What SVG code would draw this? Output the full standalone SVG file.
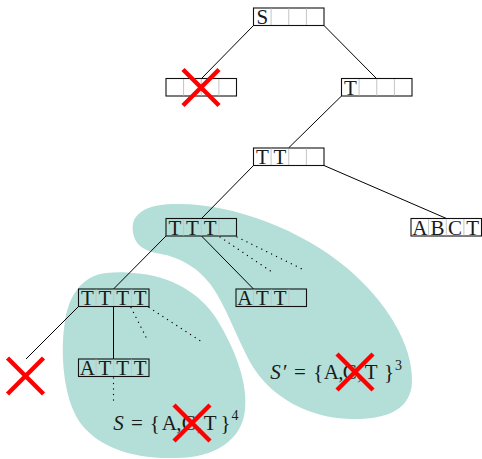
<svg xmlns="http://www.w3.org/2000/svg" width="482" height="459" viewBox="0 0 482 459">
  <style>
    .blob { fill: #b3dfd8; stroke: none; }
    .frame { fill: none; stroke: #111; stroke-width: 1.1; }
    .div { stroke: #c4c4c4; stroke-width: 1; }
    .ch { font-family: "Liberation Serif", "DejaVu Serif", serif; font-size: 21px; fill: #1a1a1a; text-anchor: middle; }
    .edge { stroke: #000; stroke-width: 1; fill: none; }
    .dots { stroke: #000; stroke-width: 1.3; fill: none; stroke-dasharray: 0.1 5.4; stroke-linecap: round; }
    .cross { stroke: #ff0000; stroke-width: 4.5; }
    .math { font-family: "Liberation Serif", "DejaVu Serif", serif; font-size: 21px; fill: #1a1a1a; text-anchor: middle; }
    .sup { font-size: 14px; }
  </style>
  <defs>
    <!-- a four-cell word box: frame plus three light dividers -->
    <g id="cells">
      <rect class="frame" x="0" y="0" width="70.5" height="17.5"/>
      <line class="div" x1="17.6" y1="0.5" x2="17.6" y2="17"/>
      <line class="div" x1="35.25" y1="0.5" x2="35.25" y2="17"/>
      <line class="div" x1="52.9" y1="0.5" x2="52.9" y2="17"/>
    </g>
    <g id="x">
      <line class="cross" x1="-18" y1="-18" x2="18" y2="18"/>
      <line class="cross" x1="-18" y1="18" x2="18" y2="-18"/>
    </g>
  </defs>

  <!-- shaded regions -->
  <g id="regions">
    <path id="region-s-prime" class="blob" d="M 133,232 C 130,214 146,204 176,204 C 232,203 302,230 347,268 C 387,302 413,345 412,382 C 411,410 386,420 350,419 C 310,418 270,398 250,362 C 236,336 226,306 211,285 C 196,265 176,256 156,253 C 141,250 134,242 133,232 Z"/>
    <path id="region-s" class="blob" d="M 132,273 C 172,275 200,294 216,318 C 236,350 248,384 245,410 C 242,440 215,458 175,458 C 130,459 96,446 79,421 C 63,396 60,352 65,321 C 69,295 82,276 106,273 C 116,272 125,272 132,273 Z"/>
  </g>

  <!-- tree edges -->
  <g id="connectors">
    <line class="edge" x1="253.5" y1="25.5" x2="201.5" y2="78.5"/>
    <line class="edge" x1="324" y1="25.5" x2="376.5" y2="78.5"/>
    <line class="edge" x1="341.5" y1="96" x2="288.5" y2="148"/>
    <line class="edge" x1="324" y1="165.5" x2="446.5" y2="218.5"/>
    <line class="edge" x1="253.5" y1="165.5" x2="201.5" y2="218.5"/>
    <line class="edge" x1="166" y1="236" x2="113.5" y2="289"/>
    <line class="edge" x1="201.5" y1="236" x2="253.5" y2="289"/>
    <line class="edge" x1="78.5" y1="306.5" x2="26" y2="359"/>
    <line class="edge" x1="113.5" y1="306.5" x2="113.5" y2="359"/>
    <line class="dots" x1="220" y1="237" x2="272" y2="272"/>
    <line class="dots" x1="237" y1="237" x2="302" y2="269"/>
    <line class="dots" x1="131" y1="307.5" x2="148" y2="341"/>
    <line class="dots" x1="149" y1="307.5" x2="202" y2="342"/>
    <line class="dots" x1="113.5" y1="378" x2="113.5" y2="405"/>
  </g>

  <!-- nodes -->
  <g id="node-s" transform="translate(253.5,8)">
    <use href="#cells"/>
    <text class="ch" font-family="Liberation Serif, serif" x="8.8" y="16.3">S</text>
  </g>
  <g id="node-empty" transform="translate(166,78.5)">
    <use href="#cells"/>
  </g>
  <g id="node-t" transform="translate(341.5,78.5)">
    <use href="#cells"/>
    <text class="ch" font-family="Liberation Serif, serif" x="8.8" y="16.3">T</text>
  </g>
  <g id="node-tt" transform="translate(253.5,148)">
    <use href="#cells"/>
    <text class="ch" font-family="Liberation Serif, serif" x="8.8" y="16.3">T</text>
    <text class="ch" font-family="Liberation Serif, serif" x="26.4" y="16.3">T</text>
  </g>
  <g id="node-abct" transform="translate(411,218.5)">
    <use href="#cells"/>
    <text class="ch" font-family="Liberation Serif, serif" x="8.8" y="16.3">A</text>
    <text class="ch" font-family="Liberation Serif, serif" x="26.4" y="16.3">B</text>
    <text class="ch" font-family="Liberation Serif, serif" x="44.1" y="16.3">C</text>
    <text class="ch" font-family="Liberation Serif, serif" x="61.7" y="16.3">T</text>
  </g>
  <g id="node-ttt" transform="translate(166,218.5)">
    <use href="#cells"/>
    <text class="ch" font-family="Liberation Serif, serif" x="8.8" y="16.3">T</text>
    <text class="ch" font-family="Liberation Serif, serif" x="26.4" y="16.3">T</text>
    <text class="ch" font-family="Liberation Serif, serif" x="44.1" y="16.3">T</text>
  </g>
  <g id="node-tttt" transform="translate(78.5,289)">
    <use href="#cells"/>
    <text class="ch" font-family="Liberation Serif, serif" x="8.8" y="16.3">T</text>
    <text class="ch" font-family="Liberation Serif, serif" x="26.4" y="16.3">T</text>
    <text class="ch" font-family="Liberation Serif, serif" x="44.1" y="16.3">T</text>
    <text class="ch" font-family="Liberation Serif, serif" x="61.7" y="16.3">T</text>
  </g>
  <g id="node-att" transform="translate(236,289)">
    <use href="#cells"/>
    <text class="ch" font-family="Liberation Serif, serif" x="8.8" y="16.3">A</text>
    <text class="ch" font-family="Liberation Serif, serif" x="26.4" y="16.3">T</text>
    <text class="ch" font-family="Liberation Serif, serif" x="44.1" y="16.3">T</text>
  </g>
  <g id="node-attt" transform="translate(78.5,359)">
    <use href="#cells"/>
    <text class="ch" font-family="Liberation Serif, serif" x="8.8" y="16.3">A</text>
    <text class="ch" font-family="Liberation Serif, serif" x="26.4" y="16.3">T</text>
    <text class="ch" font-family="Liberation Serif, serif" x="44.1" y="16.3">T</text>
    <text class="ch" font-family="Liberation Serif, serif" x="61.7" y="16.3">T</text>
  </g>

  <!-- set labels -->
  <g id="label-s">
    <text class="math" font-family="Liberation Serif, serif" y="430">
      <tspan x="121" font-style="italic">S</tspan>
      <tspan x="139.5">=</tspan>
      <tspan x="157.5">{</tspan>
      <tspan x="171.5">A</tspan>
      <tspan x="181.5">,</tspan>
      <tspan x="191.5">C</tspan>
      <tspan x="202">,</tspan>
      <tspan x="212.5">T</tspan>
      <tspan x="225.5">}</tspan>
    </text>
    <text class="math sup" font-family="Liberation Serif, serif" x="235" y="420">4</text>
  </g>
  <g id="label-s-prime">
    <text class="math" font-family="Liberation Serif, serif" y="379">
      <tspan x="278" font-style="italic">S</tspan>
      <tspan x="288">′</tspan>
      <tspan x="302.5">=</tspan>
      <tspan x="321">{</tspan>
      <tspan x="333.5">A</tspan>
      <tspan x="343.5">,</tspan>
      <tspan x="352.5">C</tspan>
      <tspan x="362.5">,</tspan>
      <tspan x="373.5">T</tspan>
      <tspan x="389">}</tspan>
    </text>
    <text class="math sup" font-family="Liberation Serif, serif" x="398.5" y="370">3</text>
  </g>

  <!-- pruned branches -->
  <g id="marks">
    <use href="#x" transform="translate(201,87.5)"/>
    <use href="#x" transform="translate(25.5,376)"/>
    <use href="#x" transform="translate(192,423)"/>
    <use href="#x" transform="translate(355,372)"/>
  </g>
</svg>
